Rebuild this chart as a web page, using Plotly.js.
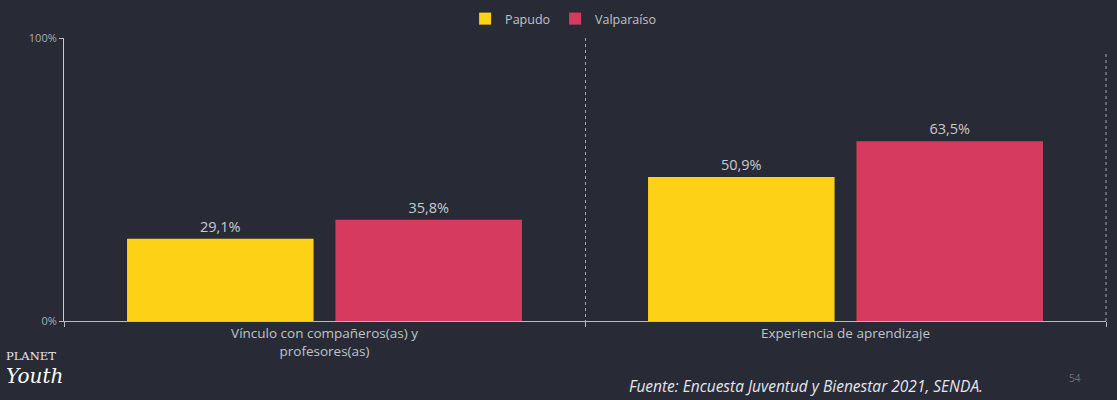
<!DOCTYPE html>
<html>
<head>
<meta charset="utf-8">
<script src="https://cdn.plot.ly/plotly-3.0.1.min.js"></script>
<style>
  html, body { margin: 0; padding: 0; background: #ffffff; }
  #chart { width: 1117px; height: 400px; }
</style>
</head>
<body>
<div id="chart"></div>
<script>
const categories = ["Vínculo con compañeros(as) y<br>profesores(as)", "Experiencia de aprendizaje"];
const seriesNames = ["Papudo", "Valparaíso"];
const papudo = [29.1, 50.9];
const valparaiso = [35.8, 63.5];
const yTickVals = [0, 100];
const yTickText = ["0%", "100%"];
const sourceText = "Fuente: Encuesta Juventud y Bienestar 2021, SENDA.";
const pageNumber = "54";

const fmt = v => v.toFixed(1).replace(".", ",") + "%";
const labelFont = { family: "Open Sans, Liberation Sans, sans-serif", size: 14.5, color: "#c9cad0" };

const traces = [
  { type: "bar", name: seriesNames[0], x: categories, y: papudo,
    text: papudo.map(fmt), textposition: "outside", textfont: labelFont,
    cliponaxis: false, marker: { color: "#fdd216" }, hoverinfo: "none" },
  { type: "bar", name: seriesNames[1], x: categories, y: valparaiso,
    text: valparaiso.map(fmt), textposition: "outside", textfont: labelFont,
    cliponaxis: false, marker: { color: "#d63a5f" }, hoverinfo: "none" }
];

const layout = {
  width: 1117, height: 400,
  margin: { l: 64, r: 11, t: 38, b: 79, autoexpand: false },
  paper_bgcolor: "#282b36",
  plot_bgcolor: "#282b36",
  barmode: "group",
  bargap: 0.2,
  bargroupgap: 0.105,
  font: { family: "Open Sans, Liberation Sans, sans-serif", color: "#c0c2c8" },
  showlegend: true,
  legend: { orientation: "h", x: 0.479, xanchor: "center", xref: "paper",
            y: 0.9525, yanchor: "middle", yref: "container",
            font: { size: 12.5, color: "#c0c2c8" },
            itemwidth: 30, traceorder: "normal" },
  xaxis: {
    type: "category",
    tickson: "boundaries",
    ticks: "outside", ticklen: 5, tickcolor: "#b8bac0",
    showline: true, linecolor: "#b8bac0", linewidth: 1,
    showgrid: true, gridcolor: "#a4a6ae", griddash: "dot", gridwidth: 1,
    tickfont: { size: 13.5, color: "#c0c2c8" },
    fixedrange: true
  },
  yaxis: {
    range: [0, 100],
    tickvals: yTickVals, ticktext: yTickText,
    ticks: "outside", ticklen: 4, tickcolor: "#b8bac0",
    showline: true, linecolor: "#c8cad0", linewidth: 1,
    showgrid: false, zeroline: false,
    tickfont: { size: 11, color: "#a8aab0" },
    fixedrange: true
  },
  shapes: [
    { type: "line", xref: "paper", yref: "paper", x0: 1, x1: 1, y0: 0, y1: 0.95,
      line: { color: "#a4a6ae", width: 1, dash: "dot" } }
  ],
  annotations: [
    { text: "PLANET", xref: "paper", yref: "paper", x: -0.058, y: -0.125, xanchor: "left", yanchor: "middle",
      showarrow: false, font: { family: "DejaVu Serif, serif", size: 11.5, color: "#e8e8ee" } },
    { text: "<i>Youth</i>", xref: "paper", yref: "paper", x: -0.058, y: -0.195, xanchor: "left", yanchor: "middle",
      showarrow: false, font: { family: "DejaVu Serif, serif", size: 20, color: "#ffffff" } },
    { text: "<i>" + sourceText + "</i>", xref: "paper", yref: "paper", x: 0.884, y: -0.228, xanchor: "right", yanchor: "middle",
      showarrow: false, font: { family: "Open Sans, sans-serif", size: 15.5, color: "#e4e6ec" } },
    { text: pageNumber, xref: "paper", yref: "paper", x: 0.97, y: -0.2, xanchor: "center", yanchor: "middle",
      showarrow: false, font: { family: "Open Sans, sans-serif", size: 10, color: "#6c6f78" } }
  ]
};

Plotly.newPlot("chart", traces, layout, { displayModeBar: false, staticPlot: true });
</script>
</body>
</html>
